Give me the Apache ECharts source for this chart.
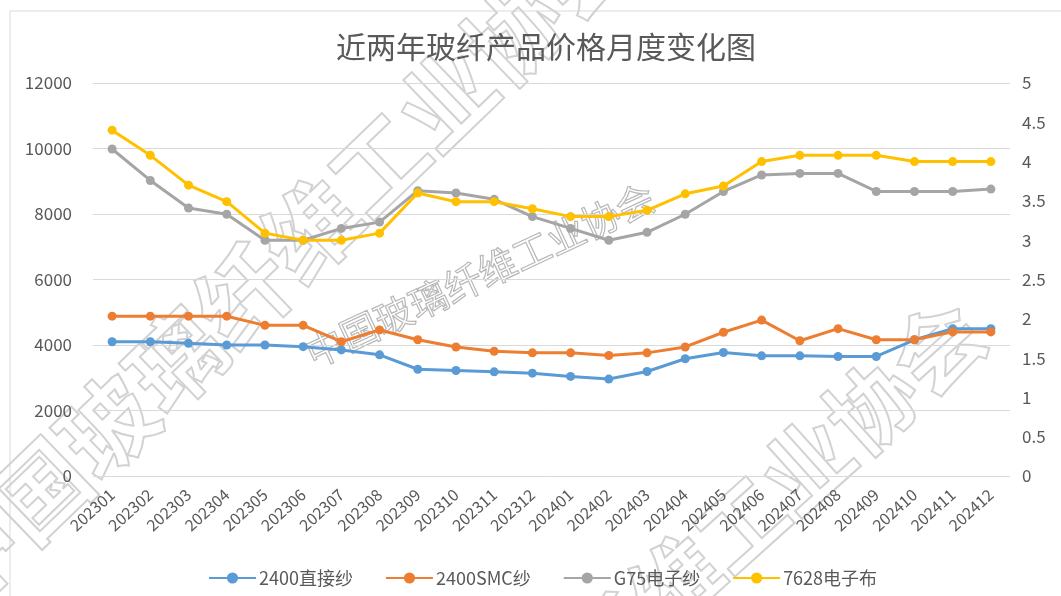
<!DOCTYPE html>
<html>
<head>
<meta charset="utf-8">
<script src="https://cdn.jsdelivr.net/npm/echarts@6/dist/echarts.min.js"></script>
<style>
html,body{margin:0;padding:0;background:#fff;}
#chart{width:1061px;height:596px;}
</style>
</head>
<body>
<div id="chart"></div>
<script>
const categories = ['202301','202302','202303','202304','202305','202306','202307','202308','202309','202310','202311','202312',
                    '202401','202402','202403','202404','202405','202406','202407','202408','202409','202410','202411','202412'];
const seriesNames = ['2400直接纱','2400SMC纱','G75电子纱','7628电子布'];
const direct2400 = [4100,4100,4050,4000,4000,3950,3850,3700,3260,3220,3180,3140,3040,2960,3190,3580,3770,3670,3670,3650,3650,4160,4500,4500];
const smc2400 = [4880,4880,4880,4880,4600,4600,4100,4460,4160,3940,3810,3760,3760,3680,3760,3940,4390,4760,4130,4500,4160,4160,4400,4400];
const g75 = [4.16,3.76,3.41,3.33,3.0,3.0,3.15,3.23,3.63,3.60,3.52,3.30,3.15,3.0,3.10,3.33,3.62,3.83,3.85,3.85,3.62,3.62,3.62,3.65];
const cloth7628 = [4.40,4.08,3.70,3.49,3.09,3.0,3.0,3.09,3.60,3.49,3.49,3.40,3.30,3.30,3.38,3.59,3.69,4.0,4.08,4.08,4.08,4.0,4.0,4.0];
const titleText = '近两年玻纤产品价格月度变化图';
const watermarkText = '中国玻璃纤维工业协会';

const FONT = '"Noto Sans CJK SC", "Noto Sans", sans-serif';
const colors = ['#5B9BD5','#ED7D31','#A5A5A5','#FFC000'];

const chart = echarts.init(document.getElementById('chart'));

function mkSeries(name, data, axisIdx, color) {
  return {
    name: name, type: 'line', data: data, yAxisIndex: axisIdx,
    symbol: 'circle', symbolSize: 9,
    lineStyle: {width: 3, color: color},
    itemStyle: {color: color},
    z: 3
  };
}

const wmStyle = {
  fill: 'rgba(0,0,0,0)', stroke: '#d2d2d2', lineWidth: 2,
  textAlign: 'center', textVerticalAlign: 'middle'
};

chart.setOption({
  animation: false,
  backgroundColor: '#fff',
  color: colors,
  textStyle: {fontFamily: FONT},
  title: {
    text: titleText, left: 541, top: 27, textAlign: 'center',
    textStyle: {fontFamily: FONT, fontSize: 30, fontWeight: 'normal', color: '#595959'}
  },
  legend: {
    top: 564, left: 203,
    itemWidth: 47, itemHeight: 14, itemGap: 32,
    textStyle: {fontFamily: FONT, fontSize: 18, color: '#595959', padding: [0, 0, 0, -2]},
    data: seriesNames
  },
  grid: {left: 93, right: 51, top: 83, bottom: 120, containLabel: false},
  xAxis: {
    type: 'category', data: categories, boundaryGap: true,
    axisLine: {show: false}, axisTick: {show: false},
    axisLabel: {rotate: 42, fontSize: 16, color: '#595959', margin: 16, interval: 0, fontFamily: FONT}
  },
  yAxis: [
    {
      type: 'value', min: 0, max: 12000, interval: 2000, position: 'left',
      axisLine: {show: false}, axisTick: {show: false},
      axisLabel: {fontSize: 17, color: '#595959', margin: 21, fontFamily: FONT, formatter: function (v) { return String(v); }},
      splitLine: {lineStyle: {color: '#d9d9d9', width: 1}}
    },
    {
      type: 'value', min: 0, max: 5, interval: 0.5, position: 'right',
      axisLine: {show: false}, axisTick: {show: false},
      axisLabel: {fontSize: 17, color: '#595959', margin: 12, fontFamily: FONT},
      splitLine: {show: false}
    }
  ],
  graphic: [
    {type: 'rect', shape: {x: 10, y: 11, width: 1100, height: 700}, style: {fill: 'none', stroke: '#d9d9d9', lineWidth: 1}, z: -10, silent: true},
    {type: 'text', x: 277, y: 262, rotation: 44 * Math.PI / 180, z: -5, silent: true,
     style: Object.assign({}, wmStyle, {text: watermarkText, font: 'bold 94px ' + FONT})},
    {type: 'text', x: 643, y: 612, rotation: 42 * Math.PI / 180, z: -5, silent: true,
     style: Object.assign({}, wmStyle, {text: watermarkText, font: 'bold 88px ' + FONT})},
    {type: 'text', x: 480, y: 275, rotation: 25 * Math.PI / 180, z: -5, silent: true,
     style: Object.assign({}, wmStyle, {text: watermarkText, font: '38px ' + FONT, lineWidth: 1.2, stroke: '#b8b8b8'})}
  ],
  series: [
    mkSeries(seriesNames[0], direct2400, 0, colors[0]),
    mkSeries(seriesNames[1], smc2400, 0, colors[1]),
    mkSeries(seriesNames[2], g75, 1, colors[2]),
    mkSeries(seriesNames[3], cloth7628, 1, colors[3])
  ]
});
</script>
</body>
</html>
